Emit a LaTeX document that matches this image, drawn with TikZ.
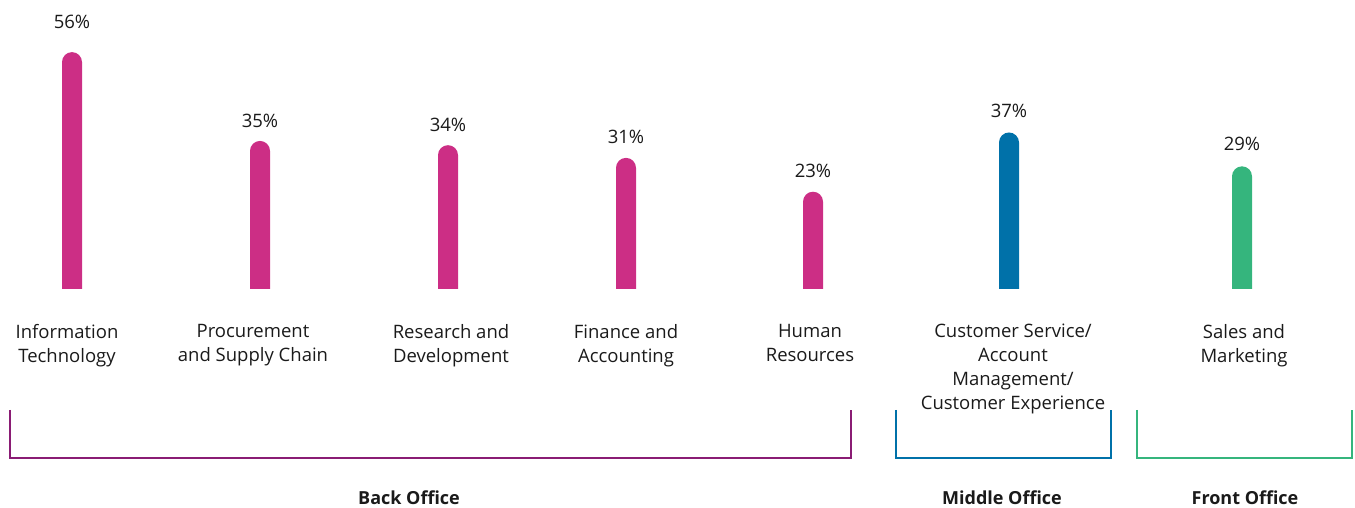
\documentclass[tikz,border=0pt]{standalone}
\usepackage{fontspec}
\setmainfont{Open Sans}
\usetikzlibrary{positioning}
\definecolor{backpink}{HTML}{CC2E85}
\definecolor{backpurple}{HTML}{8A1C74}
\definecolor{midblue}{HTML}{0071A9}
\definecolor{frontgreen}{HTML}{35B57D}
\definecolor{txtgray}{HTML}{1A1A1A}
\tikzset{
  pct/.style={font=\fontsize{18.5}{21}\selectfont, text=txtgray},
  cat/.style={align=center, anchor=north, inner sep=0pt, text=txtgray,
    font=\fontsize{18.5}{24}\selectfont},
  grp/.style={font=\bfseries\fontsize{18}{21}\selectfont, text=txtgray},
  bracket/.style={line width=2pt}
}

\begin{document}
\begin{tikzpicture}[x=1pt,y=1pt]
\useasboundingbox (0,0) rectangle (1355,508);
% bars: x / percent / label y / colour / name
\foreach \x/\p/\ly/\c/\n in {72/56/486/backpink/it, 260/35/387/backpink/proc,
    448/34/383/backpink/rd, 626/31/371/backpink/fin, 813/23/337/backpink/hr,
    1009/37/397/midblue/cs, 1242/29/364/frontgreen/sm}{
  \fill[\c] (\x-10,219) -- (\x-10,219+4.23*\p-10) arc (180:0:10) -- (\x+10,219) -- cycle;
  \node[pct] (\n-pct) at (\x,\ly) {\p\%};
}

% categories
\node[cat] (it) at (67,184) {Information\\Technology};
\node[cat] (proc) at (253,184) {Procurement\\and Supply Chain};
\node[cat] (rd) at (451,184) {Research and\\Development};
\node[cat] (fin) at (626,184) {Finance and\\Accounting};
\node[cat] (hr) at (810,184) {Human\\Resources};
\node[cat] (cs) at (1013,184) {Customer Service/\\Account\\Management/\\Customer Experience};
\node[cat] (sm) at (1244,184) {Sales and\\Marketing};

% brackets
\coordinate (back-l) at (10,98);
\coordinate (back-r) at (851,98);
\coordinate (mid-l) at (896,98);
\coordinate (mid-r) at (1111,98);
\coordinate (front-l) at (1137,98);
\coordinate (front-r) at (1352,98);
\draw[bracket, backpurple] (back-l) -- ++(0,-48) -| (back-r);
\draw[bracket, midblue] (mid-l) -- ++(0,-48) -| (mid-r);
\draw[bracket, frontgreen] (front-l) -- ++(0,-48) -| (front-r);

\node[grp] (back) at (409,10) {Back Office};
\node[grp] (mid) at (1002,10) {Middle Office};
\node[grp] (front) at (1245,10) {Front Office};
\end{tikzpicture}
\end{document}
